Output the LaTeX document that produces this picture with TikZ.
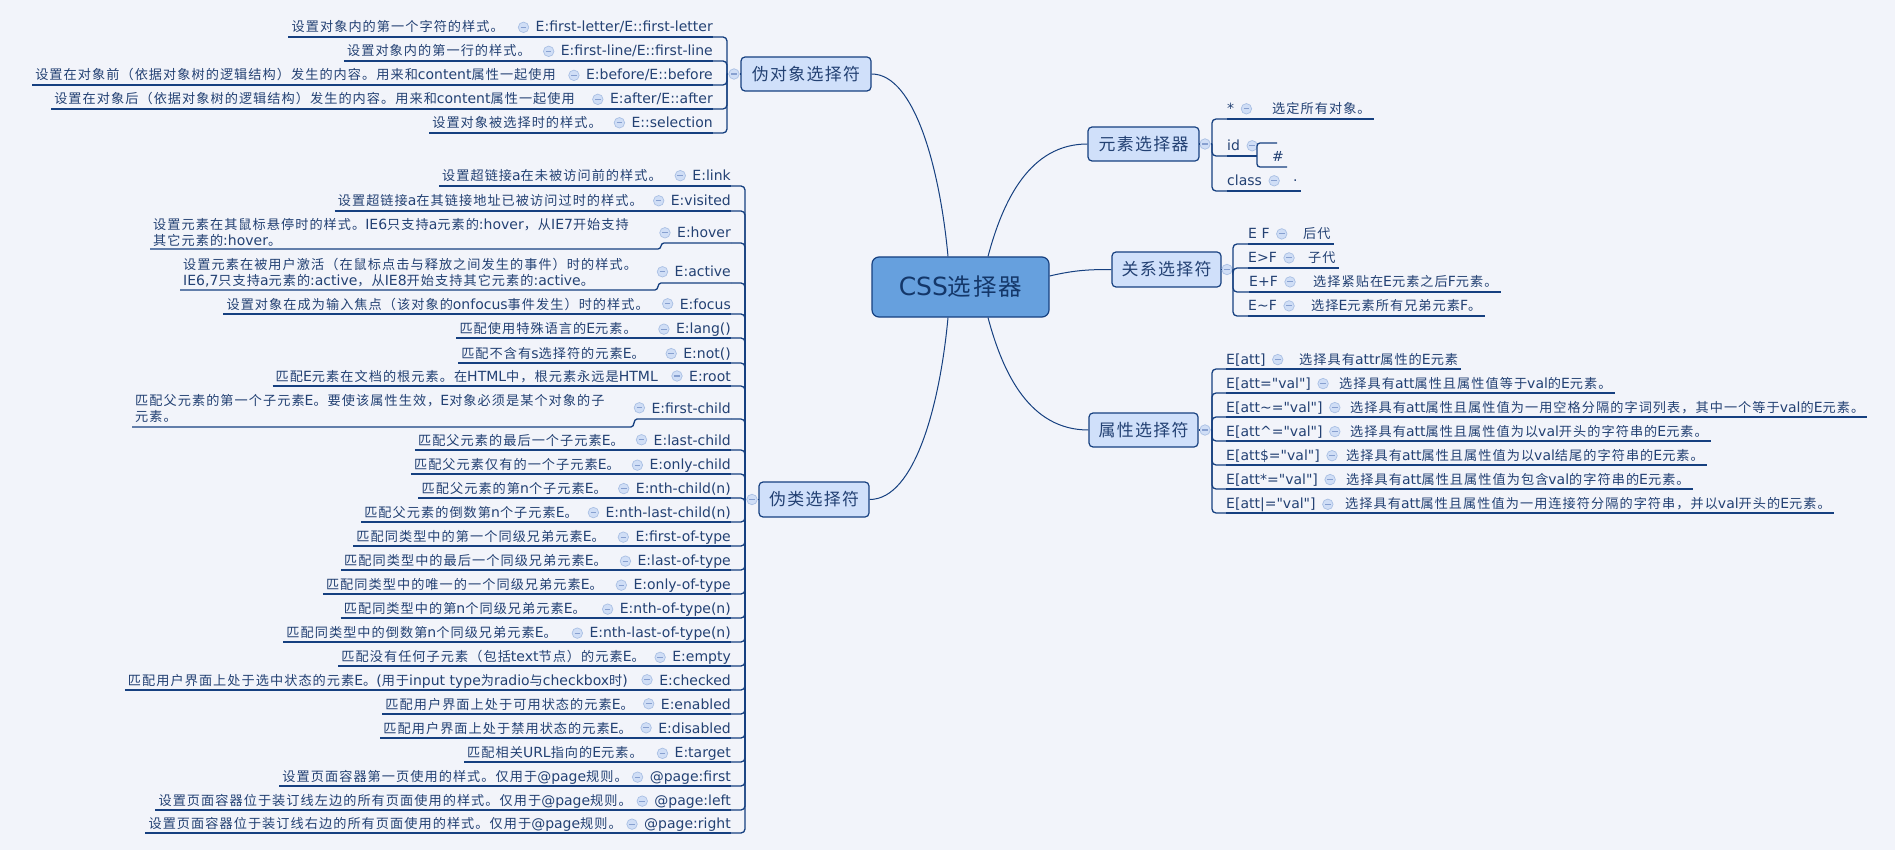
\documentclass[tikz,border=0pt]{standalone}
\usepackage{fontspec}
\setmainfont{DejaVu Sans}[Ligatures=TeXOff]
\newfontfamily\cjkfont[Scale=0.94,LetterSpace=8]{Noto Sans CJK SC}
\XeTeXinterchartokenstate=1
\newXeTeXintercharclass\CJKcls
\newcount\cjkcnt
\newcommand\setcjkrange[2]{\cjkcnt=#1\relax
  \loop\XeTeXcharclass\cjkcnt=\CJKcls\relax
  \ifnum\cjkcnt<#2\relax\advance\cjkcnt by 1\relax\repeat}
\setcjkrange{"3000}{"303F}
\setcjkrange{"4E00}{"9FFF}
\setcjkrange{"FF00}{"FFEF}
\XeTeXinterchartoks 0 \CJKcls = {\cjkfont}
\XeTeXinterchartoks 4095 \CJKcls = {\cjkfont}
\XeTeXinterchartoks \CJKcls 0 = {\normalfont}

\definecolor{bgc}{RGB}{242,244,250}
\definecolor{linec}{RGB}{22,64,128}
\definecolor{txtc}{RGB}{35,65,115}
\definecolor{subf}{RGB}{208,224,250}
\definecolor{cfill}{RGB}{102,160,222}
\definecolor{ctext}{RGB}{20,55,105}
\definecolor{mcf}{RGB}{208,222,246}
\definecolor{mcd}{RGB}{170,192,228}
\definecolor{mcl}{RGB}{135,160,208}

\newcommand\rowfont{\fontsize{14}{16}\selectfont}

\tikzset{
  ul/.style={draw=linec, line width=1.3pt},
  conn/.style={draw=linec, line width=1.3pt, rounded corners=4pt},
  branch/.style={draw=linec, line width=1pt},
  lbl/.style={text=txtc, inner sep=0pt, font=\rowfont},
  desc/.style={lbl, inner xsep=3pt},
  mc/.style={circle, draw=mcd, fill=mcf, line width=0.7pt, minimum size=10.5pt, inner sep=0pt,
    path picture={\draw[mcl, line width=1.1pt] ([xshift=-2.8pt]path picture bounding box.center) -- ([xshift=2.8pt]path picture bounding box.center);}},
  subbox/.style={draw=linec, fill=subf, rounded corners=4pt, line width=1.2pt, text=txtc,
    font=\fontsize{18}{20}\selectfont, inner sep=0pt},
  rootbox/.style={draw=linec, fill=cfill, rounded corners=7pt, line width=1.2pt, text=ctext,
    font=\fontsize{25}{28}\selectfont, inner sep=0pt, minimum width=177pt, minimum height=60pt}
}

% #1 name, #2 bracket coord, #3 selector right x, #4 underline y, #5 selector, #6 (unused), #7 desc right x, #8 desc
\newcommand\Lrow[8]{%
  \coordinate (#1u) at (#3,#4);
  \node[lbl, anchor=base east] (#1s) at (#3,#4-5) {#5};
  \node[mc] (#1m) at ([xshift=-12pt]#1s.west) {};
  \node[desc, anchor=base east] (#1d) at (#7+3,#4-5) {#8};
  \draw[ul] (#1d.west |- #1u) -- (#1u);
  \draw[conn] (#2) |- (#1u);
}
% #1 name, #2 bracket coord, #3 selector left x, #4 underline y, #5 selector, #6 (unused), #7 desc left x, #8 desc
\newcommand\Rrow[8]{%
  \coordinate (#1u) at (#3,#4);
  \node[lbl, anchor=base west] (#1s) at (#3,#4-5) {#5};
  \node[mc] (#1m) at ([xshift=12pt]#1s.east) {};
  \node[desc, anchor=base west] (#1d) at (#7-3,#4-5) {#8};
  \draw[ul] (#1u) -- (#1d.east |- #1u);
  \draw[conn] (#2) |- (#1u);
}

\begin{document}
\begin{tikzpicture}[x=1pt,y=-1pt]
\fill[bgc] (0,0) rectangle (1895,850);
\useasboundingbox (0,0) rectangle (1895,850);

% central and main topics
\node[rootbox] (rt) at (960.5,287) {CSS选择器};
\node[subbox, minimum width=130pt, minimum height=34pt] (pe) at (806,74) {伪对象选择符};
\node[subbox, minimum width=110pt, minimum height=35pt] (pc) at (814,499.5) {伪类选择符};
\node[subbox, minimum width=111pt, minimum height=34pt] (el) at (1143.5,144) {元素选择器};
\node[subbox, minimum width=109pt, minimum height=35pt] (rel) at (1166.5,269.5) {关系选择符};
\node[subbox, minimum width=109pt, minimum height=34pt] (attr) at (1143.5,430) {属性选择符};

\draw[branch] ([xshift=-12.5pt]rt.north) .. controls (940,170) and (915,74) .. (pe.east);
\draw[branch] ([xshift=-12.5pt]rt.south) .. controls (940,404) and (915,499.5) .. (pc.east);
\draw[branch] ([xshift=27.5pt]rt.north) .. controls (1003,200) and (1030,144) .. (el.west);
\draw[branch] ([yshift=11pt]rt.east) .. controls (1075,270) and (1090,269.5) .. (rel.west);
\draw[branch] ([xshift=27.5pt]rt.south) .. controls (1003,374) and (1030,430) .. (attr.west);

% collapse buttons and bracket points
\node[mc] (pem) at (734,74) {};
\coordinate (peb) at (727,74);
\draw[ul] (pe.west) -- (pem.east);
\draw[ul] (pem.west) -- (peb);
\node[mc] (pcm) at (752,499.5) {};
\coordinate (pcb) at (745,499.5);
\draw[ul] (pc.west) -- (pcm.east);
\draw[ul] (pcm.west) -- (pcb);
\node[mc] (elm) at (1205,144) {};
\coordinate (elb) at (1212,144);
\draw[ul] (el.east) -- (elm.west);
\draw[ul] (elm.east) -- (elb);
\node[mc] (relm) at (1227,269.5) {};
\coordinate (relb) at (1233,269.5);
\draw[ul] (rel.east) -- (relm.west);
\draw[ul] (relm.east) -- (relb);
\node[mc] (attrm) at (1205,430) {};
\coordinate (attrb) at (1212,430);
\draw[ul] (attr.east) -- (attrm.west);
\draw[ul] (attrm.east) -- (attrb);

% pseudo-elements
\Lrow{pea}{peb}{713}{37}{E:first-letter/E::first-letter}{}{504}{设置对象内的第一个字符的样式。}
\Lrow{peb}{peb}{713}{61}{E:first-line/E::first-line}{}{531}{设置对象内的第一行的样式。}
\Lrow{pec}{peb}{713}{85}{E:before/E::before}{}{556}{设置在对象前（依据对象树的逻辑结构）发生的内容。用来和content属性一起使用}
\Lrow{ped}{peb}{713}{109}{E:after/E::after}{}{575}{设置在对象后（依据对象树的逻辑结构）发生的内容。用来和content属性一起使用}
\Lrow{pee}{peb}{713}{133}{E::selection}{}{602}{设置对象被选择时的样式。}

% pseudo-classes
\Lrow{pc1}{pcb}{731}{186}{E:link}{}{662}{设置超链接a在未被访问前的样式。}
\Lrow{pc2}{pcb}{731}{211}{E:visited}{}{643}{设置超链接a在其链接地址已被访问过时的样式。}

\coordinate (pc3u) at (731,243);
\node[lbl, anchor=base east] (pc3s) at (731,238) {E:hover};
\node[mc] (pc3m) at ([xshift=-12pt]pc3s.west) {};
\node[desc, anchor=north west, align=left] (pc3d) at (150,218) {设置元素在其鼠标悬停时的样式。IE6只支持a元素的:hover，从IE7开始支持\\其它元素的:hover。};
\coordinate (pc3k) at (658,249);
\draw[ul] (pc3d.west |- pc3k) -- (pc3k) .. controls (662,249) and (660,243) .. (664,243) -- (pc3u);
\draw[conn] (pcb) |- (pc3u);

\coordinate (pc4u) at (731,283);
\node[lbl, anchor=base east] (pc4s) at (731,277) {E:active};
\node[mc] (pc4m) at ([xshift=-12pt]pc4s.west) {};
\node[desc, anchor=north west, align=left] (pc4d) at (180,258) {设置元素在被用户激活（在鼠标点击与释放之间发生的事件）时的样式。\\IE6,7只支持a元素的:active，从IE8开始支持其它元素的:active。};
\coordinate (pc4k) at (655,290);
\draw[ul] (pc4d.west |- pc4k) -- (pc4k) .. controls (659,290) and (657,283) .. (661,283) -- (pc4u);
\draw[conn] (pcb) |- (pc4u);

\Lrow{pc5}{pcb}{731}{314}{E:focus}{}{649}{设置对象在成为输入焦点（该对象的onfocus事件发生）时的样式。}
\Lrow{pc6}{pcb}{731}{338}{E:lang()}{}{637}{匹配使用特殊语言的E元素。}
\Lrow{pc7}{pcb}{731}{363}{E:not()}{}{645}{匹配不含有s选择符的元素E。}
\Lrow{pc8}{pcb}{731}{386}{E:root}{}{658}{匹配E元素在文档的根元素。在HTML中，根元素永远是HTML}

\coordinate (pc9u) at (731,419);
\node[lbl, anchor=base east] (pc9s) at (731,413) {E:first-child};
\node[mc] (pc9m) at ([xshift=-12pt]pc9s.west) {};
\node[desc, anchor=north west, align=left] (pc9d) at (132,394) {匹配父元素的第一个子元素E。要使该属性生效，E对象必须是某个对象的子\\元素。};
\coordinate (pc9k) at (631,427);
\draw[ul] (pc9d.west |- pc9k) -- (pc9k) .. controls (635,427) and (633,419) .. (637,419) -- (pc9u);
\draw[conn] (pcb) |- (pc9u);

\Lrow{pc10}{pcb}{731}{450}{E:last-child}{}{624}{匹配父元素的最后一个子元素E。}
\Lrow{pc11}{pcb}{731}{474}{E:only-child}{}{620}{匹配父元素仅有的一个子元素E。}
\Lrow{pc12}{pcb}{731}{498}{E:nth-child(n)}{}{607}{匹配父元素的第n个子元素E。}
\Lrow{pc13}{pcb}{731}{522}{E:nth-last-child(n)}{}{578}{匹配父元素的倒数第n个子元素E。}
\Lrow{pc14}{pcb}{731}{546}{E:first-of-type}{}{605}{匹配同类型中的第一个同级兄弟元素E。}
\Lrow{pc15}{pcb}{731}{570}{E:last-of-type}{}{607}{匹配同类型中的最后一个同级兄弟元素E。}
\Lrow{pc16}{pcb}{731}{594}{E:only-of-type}{}{603}{匹配同类型中的唯一的一个同级兄弟元素E。}
\Lrow{pc17}{pcb}{731}{618}{E:nth-of-type(n)}{}{586}{匹配同类型中的第n个同级兄弟元素E。}
\Lrow{pc18}{pcb}{731}{642}{E:nth-last-of-type(n)}{}{557}{匹配同类型中的倒数第n个同级兄弟元素E。}
\Lrow{pc19}{pcb}{731}{666}{E:empty}{}{645}{匹配没有任何子元素（包括text节点）的元素E。}
\Lrow{pc20}{pcb}{731}{690}{E:checked}{}{628}{匹配用户界面上处于选中状态的元素E。(用于input type为radio与checkbox时)}
\Lrow{pc21}{pcb}{731}{714}{E:enabled}{}{634}{匹配用户界面上处于可用状态的元素E。}
\Lrow{pc22}{pcb}{731}{738}{E:disabled}{}{632}{匹配用户界面上处于禁用状态的元素E。}
\Lrow{pc23}{pcb}{731}{762}{E:target}{}{643}{匹配相关URL指向的E元素。}
\Lrow{pc24}{pcb}{731}{786}{@page:first}{}{628}{设置页面容器第一页使用的样式。仅用于@page规则。}
\Lrow{pc25}{pcb}{731}{810}{@page:left}{}{632}{设置页面容器位于装订线左边的所有页面使用的样式。仅用于@page规则。}
\Lrow{pc26}{pcb}{731}{833}{@page:right}{}{622}{设置页面容器位于装订线右边的所有页面使用的样式。仅用于@page规则。}

% element selectors
\Rrow{el1}{elb}{1227}{119}{*}{}{1272}{选定所有对象。}
\coordinate (el2u) at (1227,156);
\node[lbl, anchor=base west] (el2s) at (1227,151) {id};
\node[mc] (el2m) at ([xshift=12pt]el2s.east) {};
\coordinate (idb) at (1257,156);
\draw[ul] (el2u) -- (idb);
\draw[conn] (elb) |- (el2u);
\node[lbl, anchor=base west] (hash) at (1272,162) {\#};
\coordinate (hashu) at (1287,167);
\coordinate (idstub) at (1277,143);
\draw[ul, rounded corners=3pt] (idstub) -- (1257,143) -- (1257,167) -- (hashu);
\Rrow{el3}{elb}{1227}{191}{class}{}{1293}{·}

% relation selectors
\Rrow{r1}{relb}{1248}{244}{E F}{}{1303}{后代}
\Rrow{r2}{relb}{1248}{268}{E>F}{}{1308}{子代}
\Rrow{r3}{relb}{1249}{292}{E+F}{}{1313}{选择紧贴在E元素之后F元素。}
\Rrow{r4}{relb}{1248}{316}{E\textasciitilde F}{}{1311}{选择E元素所有兄弟元素F。}

% attribute selectors
\Rrow{a1}{attrb}{1226}{369}{E[att]}{}{1299}{选择具有attr属性的E元素}
\Rrow{a2}{attrb}{1226}{393}{E[att="val"]}{}{1339}{选择具有att属性且属性值等于val的E元素。}
\Rrow{a3}{attrb}{1226}{417}{E[att\textasciitilde="val"]}{}{1350}{选择具有att属性且属性值为一用空格分隔的字词列表，其中一个等于val的E元素。}
\Rrow{a4}{attrb}{1226}{441}{E[att\textasciicircum="val"]}{}{1350}{选择具有att属性且属性值为以val开头的字符串的E元素。}
\Rrow{a5}{attrb}{1226}{465}{E[att\$="val"]}{}{1346}{选择具有att属性且属性值为以val结尾的字符串的E元素。}
\Rrow{a6}{attrb}{1226}{489}{E[att*="val"]}{}{1346}{选择具有att属性且属性值为包含val的字符串的E元素。}
\Rrow{a7}{attrb}{1226}{513}{E[att|="val"]}{}{1345}{选择具有att属性且属性值为一用连接符分隔的字符串，并以val开头的E元素。}
\end{tikzpicture}
\end{document}
